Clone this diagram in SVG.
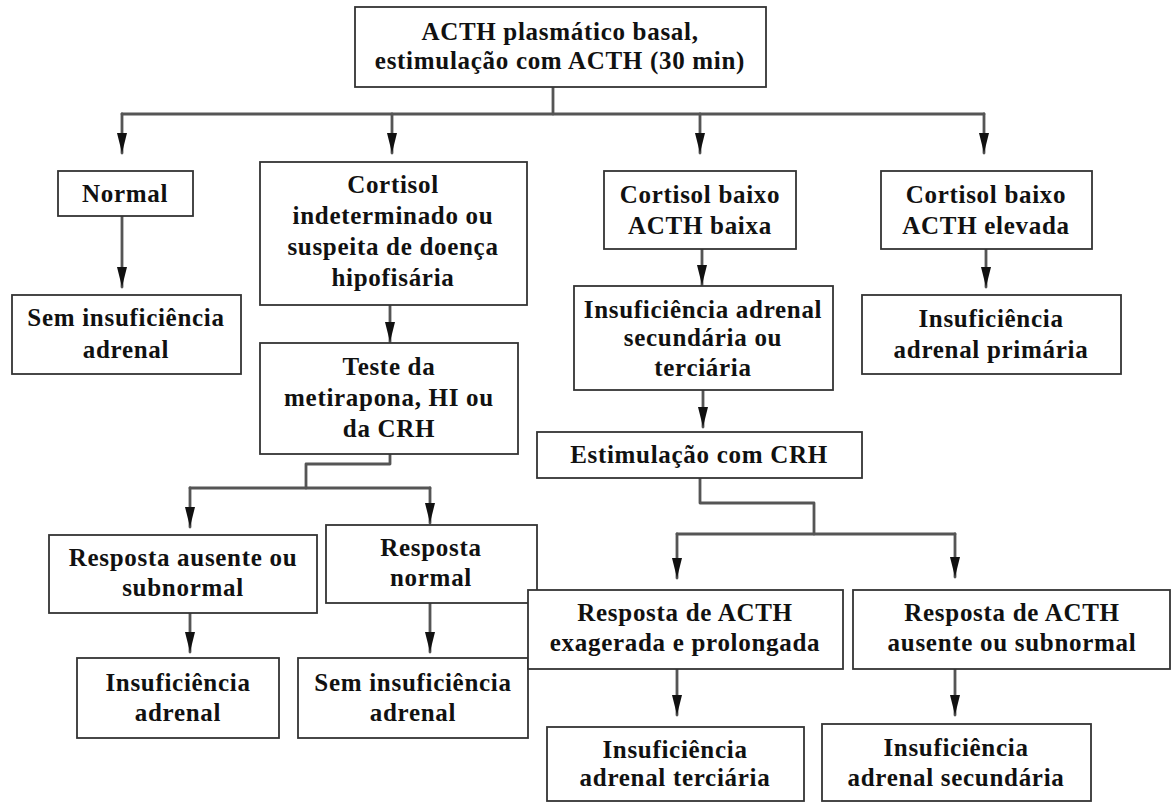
<svg xmlns="http://www.w3.org/2000/svg" width="1176" height="803" viewBox="0 0 1176 803">
<style>
  .box { fill: #ffffff; stroke: #333333; stroke-width: 1.8; }
  .t { font-family: "Liberation Serif", "Times New Roman", serif; font-weight: bold; font-size: 25px; letter-spacing: 0.7px; fill: #111111; text-anchor: middle; }
  .c { fill: none; stroke: #555555; stroke-width: 2.8; stroke-linecap: round; stroke-linejoin: round; }
  .a { marker-end: url(#arrow); }
</style>
<defs>
  <marker id="arrow" viewBox="0 0 20 10" refX="20" refY="5" markerWidth="20" markerHeight="11" markerUnits="userSpaceOnUse" orient="auto">
    <path d="M0,0 L20,5 L0,10 z" fill="#111111"/>
  </marker>
</defs>
<rect width="1176" height="803" fill="#ffffff"/>
<g id="connectors">
  <path class="c" d="M553,87 V114"/>
  <path class="c" d="M122,114 H984"/>
  <path class="c a" d="M122,114 V153"/>
  <path class="c a" d="M392,114 V153"/>
  <path class="c a" d="M700,114 V153"/>
  <path class="c a" d="M984,114 V153"/>
  <path class="c a" d="M122,216 V287"/>
  <path class="c a" d="M390,305 V342"/>
  <path class="c" d="M390,454 V464 H306 V488"/>
  <path class="c" d="M190,488 H430"/>
  <path class="c a" d="M190,488 V527"/>
  <path class="c a" d="M430,488 V523"/>
  <path class="c a" d="M190,613 V652"/>
  <path class="c a" d="M430,603 V652"/>
  <path class="c a" d="M702,249 V285"/>
  <path class="c a" d="M703,390 V427"/>
  <path class="c a" d="M986,249 V287"/>
  <path class="c" d="M700,478 V503 H814 V534"/>
  <path class="c" d="M677,534 H955"/>
  <path class="c a" d="M677,534 V578"/>
  <path class="c a" d="M955,534 V577"/>
  <path class="c a" d="M677,669 V715"/>
  <path class="c a" d="M955,669 V715"/>
</g>
<g id="n-top">
  <rect class="box" x="355" y="7" width="411" height="80"/>
  <text class="t" x="560" y="40">ACTH plasmático basal,</text>
  <text class="t" x="560" y="69">estimulação com ACTH (30 min)</text>
</g>
<g id="n-normal">
  <rect class="box" x="58" y="171" width="135" height="45"/>
  <text class="t" x="125" y="202">Normal</text>
</g>
<g id="n-sem1">
  <rect class="box" x="12" y="295" width="229" height="79"/>
  <text class="t" x="126" y="326">Sem insuficiência</text>
  <text class="t" x="126" y="358">adrenal</text>
</g>
<g id="n-cortisol-ind">
  <rect class="box" x="260" y="162" width="267" height="143"/>
  <text class="t" x="393" y="193">Cortisol</text>
  <text class="t" x="393" y="224">indeterminado ou</text>
  <text class="t" x="393" y="255">suspeita de doença</text>
  <text class="t" x="393" y="286">hipofisária</text>
</g>
<g id="n-teste">
  <rect class="box" x="260" y="343" width="258" height="111"/>
  <text class="t" x="389" y="375">Teste da</text>
  <text class="t" x="389" y="406">metirapona, HI ou</text>
  <text class="t" x="389" y="437">da CRH</text>
</g>
<g id="n-resp-ausente">
  <rect class="box" x="49" y="535" width="268" height="78"/>
  <text class="t" x="183" y="566">Resposta ausente ou</text>
  <text class="t" x="183" y="596">subnormal</text>
</g>
<g id="n-resp-normal">
  <rect class="box" x="326" y="525" width="211" height="78"/>
  <text class="t" x="431" y="556">Resposta</text>
  <text class="t" x="431" y="586">normal</text>
</g>
<g id="n-insuf">
  <rect class="box" x="77" y="658" width="202" height="80"/>
  <text class="t" x="178" y="691">Insuficiência</text>
  <text class="t" x="178" y="721">adrenal</text>
</g>
<g id="n-sem2">
  <rect class="box" x="298" y="658" width="230" height="80"/>
  <text class="t" x="413" y="691">Sem insuficiência</text>
  <text class="t" x="413" y="721">adrenal</text>
</g>
<g id="n-cb-baixa">
  <rect class="box" x="604" y="171" width="192" height="78"/>
  <text class="t" x="700" y="203">Cortisol baixo</text>
  <text class="t" x="700" y="234">ACTH baixa</text>
</g>
<g id="n-insuf-sec-terc">
  <rect class="box" x="574" y="286" width="259" height="104"/>
  <text class="t" x="703" y="318">Insuficiência adrenal</text>
  <text class="t" x="703" y="346">secundária ou</text>
  <text class="t" x="703" y="376">terciária</text>
</g>
<g id="n-estim-crh">
  <rect class="box" x="537" y="432" width="325" height="46"/>
  <text class="t" x="699" y="463">Estimulação com CRH</text>
</g>
<g id="n-resp-exag">
  <rect class="box" x="528" y="590" width="315" height="79"/>
  <text class="t" x="685" y="621">Resposta de ACTH</text>
  <text class="t" x="685" y="651">exagerada e prolongada</text>
</g>
<g id="n-resp-ausente-acth">
  <rect class="box" x="853" y="590" width="317" height="79"/>
  <text class="t" x="1012" y="621">Resposta de ACTH</text>
  <text class="t" x="1012" y="651">ausente ou subnormal</text>
</g>
<g id="n-insuf-terc">
  <rect class="box" x="547" y="727" width="257" height="74"/>
  <text class="t" x="675" y="758">Insuficiência</text>
  <text class="t" x="675" y="786">adrenal terciária</text>
</g>
<g id="n-insuf-sec">
  <rect class="box" x="822" y="724" width="269" height="77"/>
  <text class="t" x="956" y="756">Insuficiência</text>
  <text class="t" x="956" y="786">adrenal secundária</text>
</g>
<g id="n-cb-elevada">
  <rect class="box" x="881" y="171" width="211" height="78"/>
  <text class="t" x="986" y="203">Cortisol baixo</text>
  <text class="t" x="986" y="234">ACTH elevada</text>
</g>
<g id="n-insuf-prim">
  <rect class="box" x="862" y="295" width="259" height="79"/>
  <text class="t" x="991" y="327">Insuficiência</text>
  <text class="t" x="991" y="358">adrenal primária</text>
</g>
</svg>
